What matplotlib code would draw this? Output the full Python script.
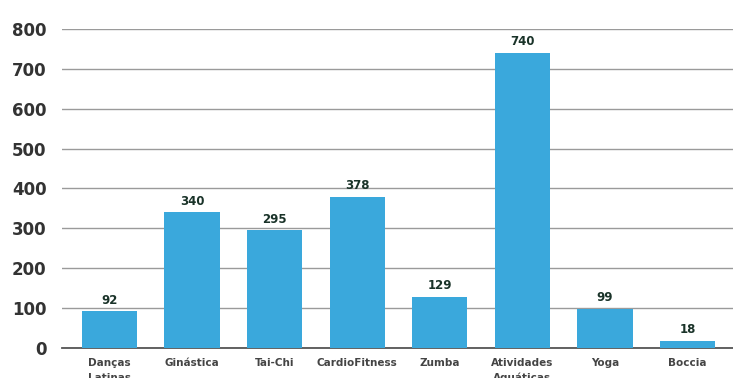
import matplotlib
matplotlib.use("Agg")
import matplotlib.pyplot as plt
import numpy as np

categorias = ["Danças\nLatinas", "Ginástica", "Tai-Chi", "CardioFitness", "Zumba",
              "Atividades\nAquáticas", "Yoga", "Boccia"]
inscritos = [92, 340, 295, 378, 129, 740, 99, 18]
y_ticks = [0, 100, 200, 300, 400, 500, 600, 700, 800]

fig = plt.figure(figsize=(7.33, 3.78), dpi=100)
ax = fig.add_axes([62 / 733, 1 - 348 / 378, 1 - 62 / 733, (348 - 29) / 378])

x = np.arange(len(categorias))
bars = ax.bar(x, inscritos, width=0.67, color="#3aa8dc", zorder=3)

for xi, v in zip(x, inscritos):
    ax.text(xi, v + 12, str(v), ha="center", va="bottom", fontsize=8.5,
            fontweight="heavy", color="#1a3329", zorder=4)

ax.set_xlim(-0.575, 7.55)
ax.set_ylim(0, 800)
ax.set_yticks(y_ticks)
ax.set_yticklabels([str(t) for t in y_ticks], fontsize=12, fontweight="bold", color="#333333")
ax.set_xticks(x)
ax.set_xticklabels(categorias, fontsize=7.5, fontweight="bold", color="#444444",
                   va="top", linespacing=1.6)
ax.tick_params(axis="both", length=0)
ax.tick_params(axis="y", pad=11)
ax.tick_params(axis="x", pad=7)

ax.grid(axis="y", color="#9a9a9a", linewidth=1.0, zorder=0)
for s in ["top", "right", "left"]:
    ax.spines[s].set_visible(False)
ax.spines["bottom"].set_color("#555555")
ax.spines["bottom"].set_linewidth(1.3)

fig.savefig("out.png", dpi=100)
